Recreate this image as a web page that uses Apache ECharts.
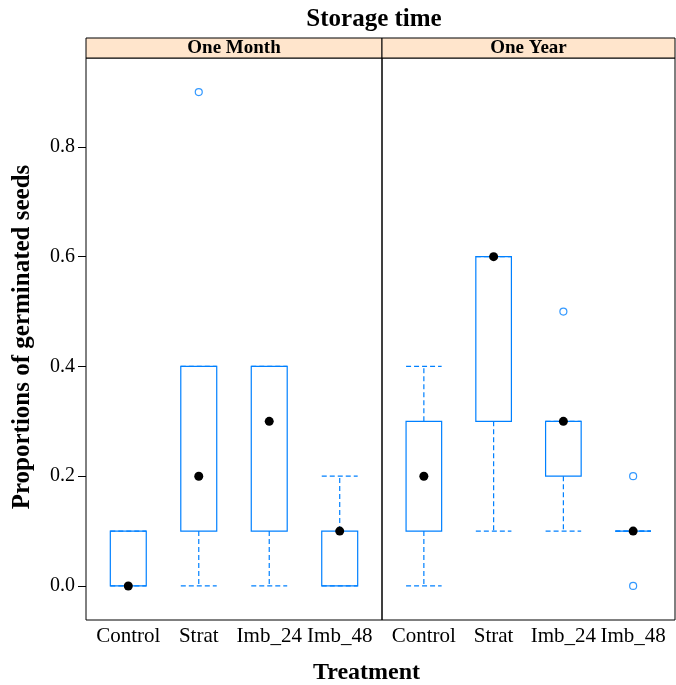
<!DOCTYPE html>
<html>
<head>
<meta charset="utf-8">
<script src="https://cdn.jsdelivr.net/npm/echarts@6/dist/echarts.min.js"></script>
<style>html,body{margin:0;padding:0;background:#fff;}#c{width:676px;height:685px;}</style>
</head>
<body>
<div id="c"></div>
<script>
const categories = ['Control', 'Strat', 'Imb_24', 'Imb_48'];
const panels = ['One Month', 'One Year'];
const yTicks = [0, 0.2, 0.4, 0.6, 0.8];
// [lower whisker, Q1, median, Q3, upper whisker]
const oneMonthStats = [
  [0, 0, 0, 0.1, 0.1],
  [0, 0.1, 0.2, 0.4, 0.4],
  [0, 0.1, 0.3, 0.4, 0.4],
  [0, 0, 0.1, 0.1, 0.2]
];
const oneYearStats = [
  [0, 0.1, 0.2, 0.3, 0.4],
  [0.1, 0.3, 0.6, 0.6, 0.6],
  [0.1, 0.2, 0.3, 0.3, 0.3],
  [0.1, 0.1, 0.1, 0.1, 0.1]
];
// [category index (1-based), value]
const oneMonthOutliers = [[2, 0.9]];
const oneYearOutliers = [[3, 0.5], [4, 0.2], [4, 0.0]];

const BLUE = '#0080ff';
const FONT = 'Liberation Serif';
const BOXW = 0.51;

function renderBox(params, api) {
  const x = api.value(0);
  const lw = api.value(1), q1 = api.value(2), med = api.value(3), q3 = api.value(4), uw = api.value(5);
  const half = api.size([BOXW, 0])[0] / 2;
  const pLw = api.coord([x, lw]);
  const pQ1 = api.coord([x, q1]);
  const pMed = api.coord([x, med]);
  const pQ3 = api.coord([x, q3]);
  const pUw = api.coord([x, uw]);
  const cx = pQ1[0];
  const dash = { stroke: BLUE, lineWidth: 1.2, lineDash: [5, 3], fill: null };
  const children = [];
  children.push({ type: 'line', shape: { x1: cx, y1: pQ1[1], x2: cx, y2: pLw[1] }, style: dash });
  children.push({ type: 'line', shape: { x1: cx, y1: pQ3[1], x2: cx, y2: pUw[1] }, style: dash });
  children.push({ type: 'line', shape: { x1: cx - half, y1: pLw[1], x2: cx + half, y2: pLw[1] }, style: dash });
  children.push({ type: 'line', shape: { x1: cx - half, y1: pUw[1], x2: cx + half, y2: pUw[1] }, style: dash });
  children.push({ type: 'rect', shape: { x: cx - half, y: pQ3[1], width: half * 2, height: pQ1[1] - pQ3[1] },
    style: { stroke: BLUE, lineWidth: 1.2, fill: null } });
  children.push({ type: 'circle', shape: { cx: cx, cy: pMed[1], r: 4.5 }, style: { fill: '#000' } });
  return { type: 'group', children: children };
}

function boxData(stats) {
  return stats.map((s, i) => [i + 1].concat(s));
}

const grids = [
  { left: 86, top: 58, width: 296, height: 562 },
  { left: 382, top: 58, width: 293, height: 562 }
];

const option = {
  animation: false,
  backgroundColor: '#fff',
  grid: grids.map(g => Object.assign({ show: true, borderColor: '#000', borderWidth: 1, backgroundColor: 'transparent' }, g)),
  xAxis: [0, 1].map(i => ({
    type: 'value', gridIndex: i, min: 0.4, max: 4.6,
    axisLine: { show: false }, axisTick: { show: false }, splitLine: { show: false },
    axisLabel: {
      customValues: [1, 2, 3, 4],
      formatter: v => categories[Math.round(v) - 1],
      color: '#000', fontFamily: FONT, fontSize: 21, margin: 6
    }
  })),
  yAxis: [0, 1].map(i => ({
    type: 'value', gridIndex: i, min: -0.062, max: 0.962,
    axisLine: { show: false }, splitLine: { show: false },
    axisTick: { show: i === 0, length: 8, lineStyle: { color: '#000' }, customValues: yTicks },
    axisLabel: {
      show: i === 0, customValues: yTicks,
      formatter: v => v.toFixed(1),
      color: '#000', fontFamily: FONT, fontSize: 20, margin: 11
    }
  })),
  series: [
    { type: 'custom', xAxisIndex: 0, yAxisIndex: 0, renderItem: renderBox, data: boxData(oneMonthStats), encode: { x: 0, y: [1, 2, 3, 4, 5] } },
    { type: 'custom', xAxisIndex: 1, yAxisIndex: 1, renderItem: renderBox, data: boxData(oneYearStats), encode: { x: 0, y: [1, 2, 3, 4, 5] } },
    { type: 'scatter', xAxisIndex: 0, yAxisIndex: 0, data: oneMonthOutliers, symbol: 'circle', symbolSize: 7,
      itemStyle: { color: '#fff', borderColor: BLUE, borderWidth: 1.2 } },
    { type: 'scatter', xAxisIndex: 1, yAxisIndex: 1, data: oneYearOutliers, symbol: 'circle', symbolSize: 7,
      itemStyle: { color: '#fff', borderColor: BLUE, borderWidth: 1.2 } }
  ],
  graphic: [
    { type: 'rect', shape: { x: 86, y: 38, width: 296, height: 20 }, style: { fill: '#ffe5cc', stroke: '#000', lineWidth: 1 } },
    { type: 'rect', shape: { x: 382, y: 38, width: 293, height: 20 }, style: { fill: '#ffe5cc', stroke: '#000', lineWidth: 1 } },
    { type: 'text', x: 234, y: 48.5, style: { text: panels[0], font: 'bold 19px "Liberation Serif"', fill: '#000', textAlign: 'center', textVerticalAlign: 'middle' } },
    { type: 'text', x: 528.5, y: 48.5, style: { text: panels[1], font: 'bold 19px "Liberation Serif"', fill: '#000', textAlign: 'center', textVerticalAlign: 'middle' } },
    { type: 'text', x: 374, y: 20, style: { text: 'Storage time', font: 'bold 25px "Liberation Serif"', fill: '#000', textAlign: 'center', textVerticalAlign: 'middle' } },
    { type: 'text', x: 366.5, y: 673, style: { text: 'Treatment', font: 'bold 24px "Liberation Serif"', fill: '#000', textAlign: 'center', textVerticalAlign: 'middle' } },
    { type: 'text', x: 23, y: 337, rotation: Math.PI / 2, style: { text: 'Proportions of germinated seeds', font: 'bold 25px "Liberation Serif"', fill: '#000', textAlign: 'center', textVerticalAlign: 'middle' } }
  ]
};

const chart = echarts.init(document.getElementById('c'), null, { renderer: 'canvas' });
chart.setOption(option);
</script>
</body>
</html>
